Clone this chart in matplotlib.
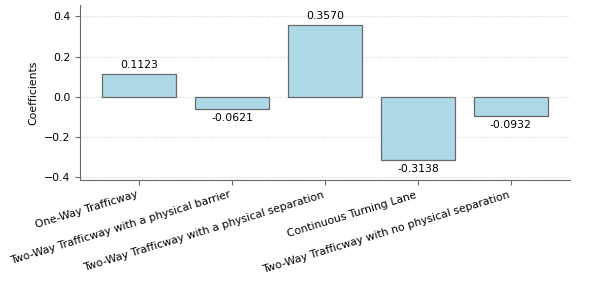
import matplotlib
matplotlib.use("Agg")
import matplotlib.pyplot as plt

categories = ["One-Way Trafficway",
              "Two-Way Trafficway with a physical barrier",
              "Two-Way Trafficway with a physical separation",
              "Continuous Turning Lane",
              "Two-Way Trafficway with no physical separation"]
coefficients = [0.1123, -0.0621, 0.3570, -0.3138, -0.0932]

fs = 7.8
fig = plt.figure(figsize=(6.15, 2.88), dpi=100)
ax = fig.add_axes([0.13, 0.375, 0.797, 0.608])
x = range(len(categories))
bars = ax.bar(x, coefficients, width=0.8, color="lightblue", edgecolor="dimgray", linewidth=0.9)
ax.set_ylim(min(coefficients) - 0.1, max(coefficients) + 0.1)
ax.set_yticks([-0.4, -0.2, 0.0, 0.2, 0.4])
ax.grid(axis="y", linestyle=":", color="lightgray", linewidth=0.8)
ax.set_axisbelow(True)
ax.spines["top"].set_visible(False)
ax.spines["right"].set_visible(False)
for s in ("left", "bottom"):
    ax.spines[s].set_color("dimgray")
ax.set_ylabel("Coefficients", fontsize=fs)
ax.set_xticks(list(x))
ax.set_xticklabels(categories, rotation=17, ha="right", fontsize=fs)
ax.tick_params(axis="y", labelsize=fs)
ax.tick_params(colors="dimgray", labelcolor="black")
for b, v in zip(bars, coefficients):
    if v >= 0:
        ax.annotate(f"{v:.4f}", (b.get_x() + b.get_width() / 2, v), xytext=(0, 3),
                    textcoords="offset points", ha="center", va="bottom", fontsize=fs)
    else:
        ax.annotate(f"{v:.4f}", (b.get_x() + b.get_width() / 2, v), xytext=(0, -3),
                    textcoords="offset points", ha="center", va="top", fontsize=fs)
fig.savefig("out.png", dpi=100)
